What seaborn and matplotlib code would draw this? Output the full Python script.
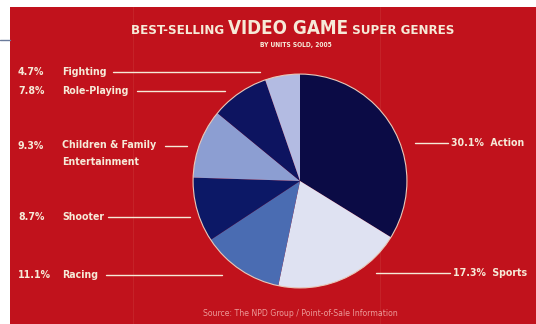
import matplotlib
matplotlib.use("Agg")
import matplotlib.pyplot as plt
import seaborn as sns
from matplotlib.patches import Rectangle

sns.set_theme(style="white")
plt.rcParams['font.family'] = ['DejaVu Sans']
plt.rcParams['font.stretch'] = 'condensed'

genres = ["Action", "Sports", "Racing", "Shooter",
          "Children & Family\nEntertainment", "Role-Playing", "Fighting"]
shares = [30.1, 17.3, 11.1, 8.7, 9.3, 7.8, 4.7]
pct_labels = ["30.1%", "17.3%", "11.1%", "8.7%", "9.3%", "7.8%", "4.7%"]
slice_colors = ["#0b0b45", "#dfe2f2", "#4a6cb2", "#0c1866", "#8c9ed2", "#0d1460", "#b3bbe2"]

W, H = 536, 324
fig = plt.figure(figsize=(W / 100, H / 100), dpi=100, facecolor="white")

bg = fig.add_axes([0, 0, 1, 1])
bg.set_xlim(0, W)
bg.set_ylim(H, 0)
bg.axis("off")
bg.add_patch(Rectangle((10, 7), W - 10, H - 7, facecolor="#c1121c", edgecolor="none"))
bg.plot([0, 10], [40, 40], color="#6a7a9a", lw=1)
bg.plot([133, 133], [7, H], color="#cc3a3a", lw=0.6, alpha=0.5)
bg.plot([380, 380], [7, H], color="#cc3a3a", lw=0.6, alpha=0.5)

txt = "#f6ead8"

fig.canvas.draw()
r = fig.canvas.get_renderer()
parts = [("BEST-SELLING ", 9.5), ("VIDEO GAME", 13.5), (" SUPER GENRES", 9.5)]
objs = []
for s, fs in parts:
    t = bg.text(0, 34, s, fontsize=fs, fontweight="bold", color=txt, va="baseline", ha="left")
    objs.append(t)
widths = [o.get_window_extent(r).width for o in objs]
x = 293 - sum(widths) / 2
for o, w in zip(objs, widths):
    o.set_x(x)
    x += w
bg.text(296, 45, "BY UNITS SOLD, 2005", fontsize=4.8, fontweight="bold", color=txt, ha="center", va="center")
bg.text(300, 313, "Source: The NPD Group / Point-of-Sale Information", fontsize=6.2,
        color="#ec9a98", ha="center", va="center")

cx, cy, rad = 300, 181, 108
pax = fig.add_axes([(cx - rad) / W, (H - cy - rad) / H, 2 * rad / W, 2 * rad / H])
pax.pie(shares, colors=slice_colors, startangle=90, counterclock=False,
        wedgeprops=dict(edgecolor="none"))
pax.add_patch(plt.Circle((0, 0), 1, fill=False, edgecolor="#e9c9b9", lw=0.8))
pax.set_xlim(-1.01, 1.01)
pax.set_ylim(-1.01, 1.01)
pax.set_aspect("equal")
pax.axis("off")

lab_fs = 7.6
left = {
    "Fighting": (72, 113, 260),
    "Role-Playing": (91, 137, 225),
    "Children & Family\nEntertainment": (146, 165, 187),
    "Shooter": (217, 108, 190),
    "Racing": (275, 106, 222),
}
for g, p, s in zip(genres, pct_labels, shares):
    if g in left:
        y, x0, x1 = left[g]
        bg.text(18, y, p, fontsize=lab_fs, fontweight="bold", color=txt, va="center", ha="left")
        if "\n" in g:
            bg.text(62, y - 6.5, g, fontsize=lab_fs, fontweight="bold", color=txt,
                    va="top", ha="left", linespacing=1.95)
        else:
            bg.text(62, y, g, fontsize=lab_fs, fontweight="bold", color=txt, va="center", ha="left")
        bg.plot([x0, x1], [y, y], color=txt, lw=1)
right = {"Action": (143, 415, 448), "Sports": (273, 376, 450)}
for g, p in zip(genres, pct_labels):
    if g in right:
        y, x0, x1 = right[g]
        bg.plot([x0, x1], [y, y], color=txt, lw=1)
        bg.text(x1 + 3, y, f"{p}  {g}", fontsize=lab_fs, fontweight="bold", color=txt,
                va="center", ha="left")

fig.savefig("out.png", dpi=100, facecolor="white")
